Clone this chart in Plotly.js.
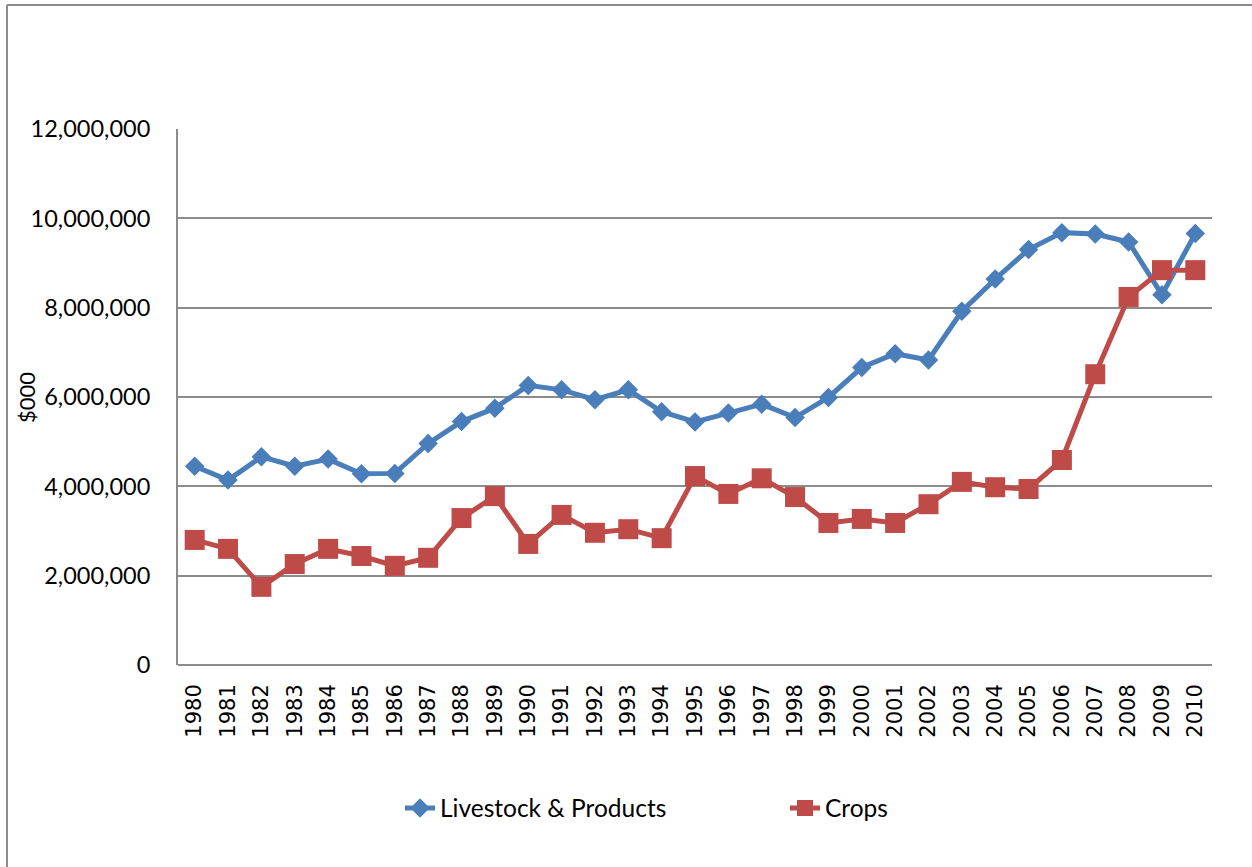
<!DOCTYPE html>
<html>
<head>
<meta charset="utf-8">
<script src="https://cdn.plot.ly/plotly-3.0.1.min.js"></script>
<style>html,body{margin:0;padding:0;background:#fff;}#chart{width:1252px;height:867px;}</style>
</head>
<body>
<div id="chart"></div>
<script>
const years = ['1980','1981','1982','1983','1984','1985','1986','1987','1988','1989','1990','1991','1992','1993','1994','1995','1996','1997','1998','1999','2000','2001','2002','2003','2004','2005','2006','2007','2008','2009','2010'];
const livestock = [4450000,4140000,4660000,4450000,4610000,4280000,4290000,4960000,5450000,5750000,6260000,6160000,5940000,6160000,5670000,5440000,5640000,5840000,5540000,5990000,6660000,6970000,6830000,7920000,8640000,9300000,9680000,9650000,9470000,8290000,9660000];
const crops = [2800000,2600000,1750000,2260000,2600000,2440000,2220000,2400000,3290000,3780000,2710000,3360000,2960000,3040000,2840000,4230000,3830000,4180000,3760000,3180000,3270000,3180000,3600000,4100000,3980000,3940000,4590000,6510000,8240000,8840000,8840000];
const yTicks = [0,2000000,4000000,6000000,8000000,10000000,12000000];
const yTickText = ['0','2,000,000','4,000,000','6,000,000','8,000,000','10,000,000','12,000,000'];
const yTitle = '$000';

const fontY = 'Lato, Carlito, Calibri, sans-serif';
const fontX = 'DejaVu Sans, sans-serif';
const traces = [
  {x: years, y: livestock, name: 'Livestock & Products', type: 'scatter', mode: 'lines+markers',
   line: {color: '#4A7EBB', width: 5}, marker: {symbol: 'diamond', size: 15, color: '#4A7EBB'}},
  {x: years, y: crops, name: 'Crops', type: 'scatter', mode: 'lines+markers',
   line: {color: '#BE4B48', width: 5}, marker: {symbol: 'square', size: 20, color: '#BE4B48'}}
];
const W = 1252, H = 867, L = 178, R = 40, T = 129, B = 202;
const pw = W - L - R, ph = H - T - B;
const px = v => (v - L) / pw;
const py = v => (H - B - v) / ph;
const layout = {
  width: W, height: H,
  margin: {l: L, r: R, t: T, b: B},
  paper_bgcolor: '#ffffff', plot_bgcolor: '#ffffff',
  font: {family: fontY, size: 23, color: '#000'},
  showlegend: true,
  legend: {orientation: 'h', x: px(400), xanchor: 'left', y: py(808), yanchor: 'middle',
           font: {family: fontY, size: 24.5, color: '#000'}, entrywidth: 340, bgcolor: 'rgba(0,0,0,0)'},
  xaxis: {type: 'category', tickangle: -90, showgrid: false, showline: false, zeroline: false,
          ticks: '', ticklabelstandoff: 14, tickfont: {family: fontX, size: 21, color: '#000'},
          range: [-0.5, 30.5], fixedrange: true},
  yaxis: {range: [0, 12000000], tickvals: yTicks, ticktext: yTickText, showgrid: true,
          gridcolor: '#8C8C8C', gridwidth: 2, zeroline: false, showline: true, linecolor: '#8C8C8C', linewidth: 2,
          ticks: '', ticklabelstandoff: 21, tickfont: {family: fontY, size: 23.5, color: '#000'}},
  annotations: [
    {text: yTitle, xref: 'paper', yref: 'paper', x: px(26), y: py(398), textangle: -90, showarrow: false,
     xanchor: 'center', yanchor: 'middle', font: {family: fontY, size: 22, color: '#000'}}
  ],
  shapes: [
    {type: 'line', xref: 'paper', yref: 'paper', x0: px(7), x1: px(1260), y0: py(5), y1: py(5), line: {color: '#8C8C8C', width: 2}},
    {type: 'line', xref: 'paper', yref: 'paper', x0: px(7), x1: px(7), y0: py(5), y1: py(880), line: {color: '#8C8C8C', width: 2}},
    {type: 'line', xref: 'paper', yref: 'paper', x0: 0, x1: 1, y0: 0, y1: 0, line: {color: '#8C8C8C', width: 2}}
  ]
};
Plotly.newPlot('chart', traces, layout, {displayModeBar: false, staticPlot: true});
</script>
</body>
</html>
